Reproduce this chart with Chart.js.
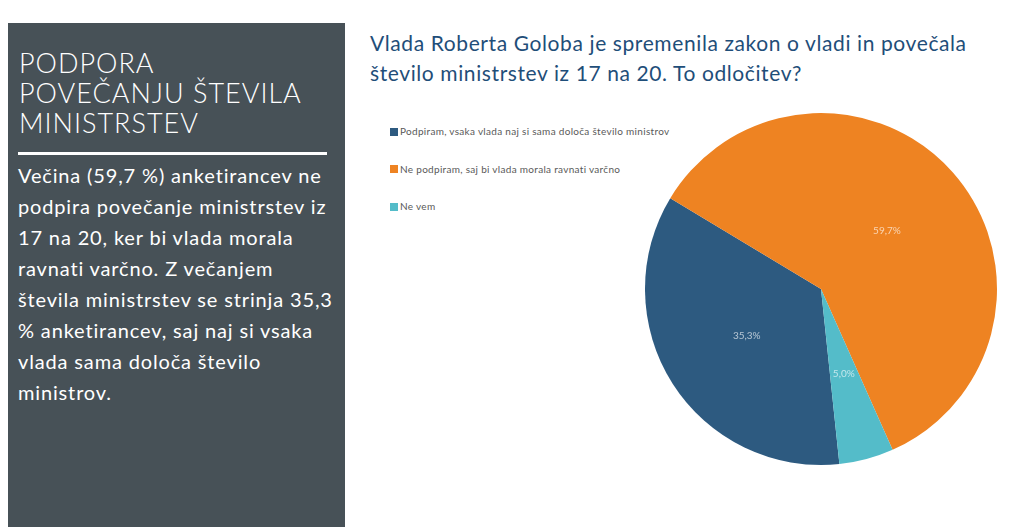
<!DOCTYPE html>
<html>
<head>
<meta charset="utf-8">
<script src="https://cdn.jsdelivr.net/npm/chart.js"></script>
<style>
  body { margin: 0; width: 1021px; height: 531px; background: #fff; position: relative; overflow: hidden; font-family: Lato, "Open Sans", sans-serif; }
  #panel { position: absolute; left: 8px; top: 23px; width: 337px; height: 504px; background: #475157; color: #fff; }
  #panel h1 { margin: 0; position: absolute; left: 11px; top: 25px; width: 330px; font-weight: 300; font-size: 27px; line-height: 30px; letter-spacing: 1px; white-space: nowrap; }
  #panel .rule { position: absolute; left: 10px; top: 129px; width: 309px; height: 3px; background: #fff; }
  #panel p { margin: 0; position: absolute; left: 10px; top: 137px; width: 330px; font-size: 20px; line-height: 31px; font-weight: 400; letter-spacing: 0.85px; white-space: nowrap; }
  #title { position: absolute; left: 370px; top: 28px; width: 650px; color: #1f4e79; font-size: 21px; line-height: 30px; letter-spacing: 0.6px; white-space: nowrap; }
  #legend { position: absolute; left: 390px; top: 124px; font-size: 10px; color: #595959; letter-spacing: 0.3px; }
  #legend div { height: 14px; line-height: 14px; margin-bottom: 23.5px; white-space: nowrap; }
  #legend span { display: inline-block; width: 8px; height: 8px; margin-right: 2px; vertical-align: -0.5px; }
  #wrap { position: absolute; left: 621px; top: 89px; width: 400px; height: 400px; }
</style>
</head>
<body>
<div id="panel">
  <h1>PODPORA<br>POVEČANJU ŠTEVILA<br>MINISTRSTEV</h1>
  <div class="rule"></div>
  <p>Večina (59,7 %) anketirancev ne<br>podpira povečanje ministrstev iz<br>17 na 20, ker bi vlada morala<br>ravnati varčno. Z večanjem<br>števila ministrstev se strinja 35,3<br>% anketirancev, saj naj si vsaka<br>vlada sama določa število<br>ministrov.</p>
</div>
<div id="title">Vlada Roberta Goloba je spremenila zakon o vladi in povečala<br>število ministrstev iz 17 na 20. To odločitev?</div>
<div id="legend"></div>
<div id="wrap"><canvas id="pie"></canvas></div>
<script>
const answers = ["Podpiram, vsaka vlada naj si sama določa število ministrov", "Ne podpiram, saj bi vlada morala ravnati varčno", "Ne vem"];
const shares = [35.3, 59.7, 5.0];
const colors = ["#2d5a80", "#ee8322", "#54bcc9"];

const legend = document.getElementById("legend");
answers.forEach((a, i) => {
  const row = document.createElement("div");
  row.innerHTML = '<span style="background:' + colors[i] + '"></span>' + a;
  legend.appendChild(row);
});

const sliceLabels = {
  id: "sliceLabels",
  afterDatasetsDraw(chart) {
    const ctx = chart.ctx;
    const meta = chart.getDatasetMeta(0);
    ctx.save();
    ctx.font = "10px Lato, 'Open Sans', sans-serif";
    ctx.fillStyle = "rgba(255,255,255,0.65)";
    ctx.textAlign = "center";
    ctx.textBaseline = "middle";
    meta.data.forEach((arc, i) => {
      const p = arc.tooltipPosition();
      ctx.fillText(shares[i].toFixed(1).replace(".", ",") + "%", p.x, p.y);
    });
    ctx.restore();
  }
};

new Chart(document.getElementById("pie"), {
  type: "pie",
  data: {
    labels: answers,
    datasets: [{ data: shares, backgroundColor: colors, borderWidth: 0 }]
  },
  options: {
    responsive: true,
    maintainAspectRatio: false,
    animation: false,
    rotation: 174,
    layout: { padding: 24 },
    plugins: { legend: { display: false }, tooltip: { enabled: false } }
  },
  plugins: [sliceLabels]
});
</script>
</body>
</html>
